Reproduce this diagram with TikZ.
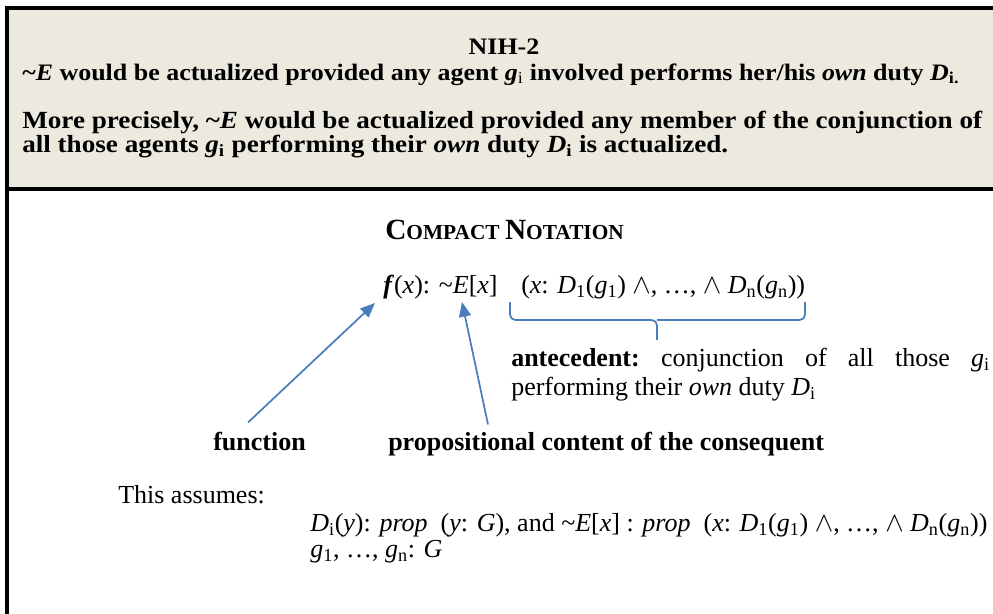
\documentclass[tikz,border=0pt]{standalone}
\usepackage{fontspec}
\setmainfont{Liberation Serif}
\newfontfamily\headfont[FakeStretch=1.1]{Liberation Serif}
\usetikzlibrary{arrows.meta,positioning}
\definecolor{boxfill}{RGB}{236,233,223}
\definecolor{arrowblue}{RGB}{74,126,187}
\newcommand{\lo}[1]{\textsubscript{#1}}
\newcommand{\nt}{\textasciitilde}

\begin{document}
\begin{tikzpicture}[x=0.75pt,y=-0.75pt,
   txt/.style={inner sep=0pt,font=\fontsize{19.5}{22}\selectfont},
   head/.style={inner sep=0pt,font=\headfont\fontsize{17.7}{16}\selectfont\bfseries},
   bighead/.style={inner sep=0pt,font=\headfont\fontsize{18.5}{16}\selectfont\bfseries},
   lbl/.style={inner sep=0pt,font=\fontsize{19.5}{22}\selectfont\bfseries},
   ptr/.style={arrowblue,line width=1.3pt,-{Triangle[length=11pt,width=9pt]}},
   frame/.style={line width=3pt}]
   \useasboundingbox (0,0) rectangle (993,614);
   \fill[boxfill] (7,8) rectangle (993,189);
   \draw[frame] (993,8) -- (7,8) -- (7,614);
   \draw[frame] (7,189) -- (993,189);

   \node[head,anchor=base] (title) at (504,55) {NIH-2};
   \node[head,anchor=base west] (claim) at (22,80)
      {\nt\textit{E} would be actualized provided any agent \textit{g}\lo{\mdseries i} involved performs her/his \textit{own} duty \textit{D}\lo{i.}};
   \node[bighead,anchor=base west] (more1) at (22,128)
      {More precisely, \nt\textit{E} would be actualized provided any member of the conjunction of};
   \node[bighead,anchor=base west] (more2) at (22,152)
      {all those agents \textit{g}\lo{i} performing their \textit{own} duty \textit{D}\lo{i} is actualized.};

   \node[lbl,anchor=base west] (compact) at (385,239)
      {\fontsize{22}{22}\selectfont C\fontsize{16}{16}\selectfont OMPACT \fontsize{22}{22}\selectfont N\fontsize{16}{16}\selectfont OTATION};
   \node[txt,anchor=base west] (fx) at (383,293)
      {\textbf{\textit{f}}(\textit{x}): \nt\textit{E}[\textit{x}]};
   \node[txt,anchor=base west] (ante) at (521,293)
      {(\textit{x}: \textit{D}\lo{1}(\textit{g}\lo{1}) $\wedge$, …, $\wedge$ \textit{D}\lo{n}(\textit{g}\lo{n}))};

   \coordinate (bl) at (510,302);
   \coordinate (br) at (805,302);
   \coordinate (bt) at (657,320);
   \coordinate (bm) at (657,340);
   \draw[arrowblue,line width=1.3pt,rounded corners=4pt] (bl) |- (bt) -- (bm);
   \draw[arrowblue,line width=1.3pt,rounded corners=4pt] (br) |- (bt);

   \node[txt,anchor=base west] (antecedent) at (511,366)
      {\frenchspacing\makebox[359pt][s]{\textbf{antecedent:} conjunction of all those \textit{g}\lo{i}}};
   \node[txt,anchor=base west] (antecedent2) at (511,395)
      {performing their \textit{own} duty \textit{D}\lo{i}};

   \node[lbl,anchor=base west] (function) at (213,450) {function};
   \node[lbl,anchor=base west] (content) at (388,450) {propositional content of the consequent};
   \coordinate (ftip) at (375,303);
   \coordinate (etip) at (462,302);
   \draw[ptr] ([xshift=-8.6pt,yshift=6.75pt]function.north) -- (ftip);
   \draw[ptr] ([xshift=75pt,yshift=5.25pt]content.north west) -- (etip);

   \node[txt,anchor=base west] (assume) at (118,503) {This assumes:};
   \node[txt,anchor=base west] (typing) at (310,531)
      {\textit{D}\lo{i}(\textit{y}): \textit{prop}~~(\textit{y}: \textit{G}), and \nt\textit{E}[\textit{x}] : \textit{prop}~~(\textit{x}: \textit{D}\lo{1}(\textit{g}\lo{1}) $\wedge$, …, $\wedge$ \textit{D}\lo{n}(\textit{g}\lo{n}))};
   \node[txt,anchor=base west] (agents) at (310,557)
      {\textit{g}\lo{1}, …, \textit{g}\lo{n}: \textit{G}};
\end{tikzpicture}
\end{document}
